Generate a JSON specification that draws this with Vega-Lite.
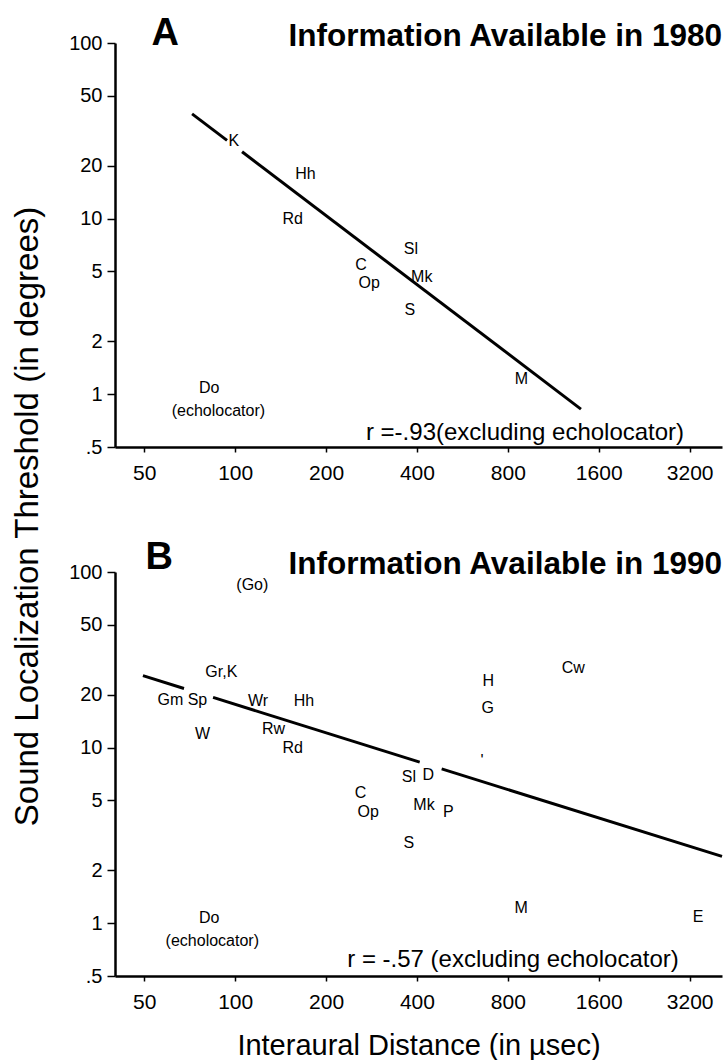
{
  "$schema": "https://vega.github.io/schema/vega-lite/v6.json",
  "background": "white",
  "padding": {"left": 10, "top": 15, "right": 0, "bottom": 0},
  "bounds": "flush",
  "spacing": 125,
  "datasets": {
    "labels": [
      {"panel": "A", "label": "K", "distance": 99, "threshold": 27.5},
      {"panel": "A", "label": "Hh", "distance": 171, "threshold": 18},
      {"panel": "A", "label": "Rd", "distance": 155, "threshold": 10},
      {"panel": "A", "label": "Sl", "distance": 382, "threshold": 6.7},
      {"panel": "A", "label": "C", "distance": 261, "threshold": 5.45},
      {"panel": "A", "label": "Op", "distance": 278, "threshold": 4.3},
      {"panel": "A", "label": "Mk", "distance": 415, "threshold": 4.65},
      {"panel": "A", "label": "S", "distance": 379, "threshold": 3.0},
      {"panel": "A", "label": "M", "distance": 888, "threshold": 1.22},
      {"panel": "A", "label": "Do", "distance": 82, "threshold": 1.08},
      {"panel": "A", "label": "(echolocator)", "distance": 88, "threshold": 0.8},
      {"panel": "B", "label": "(Go)", "distance": 114, "threshold": 84},
      {"panel": "B", "label": "Gr,K", "distance": 90, "threshold": 27},
      {"panel": "B", "label": "Gm", "distance": 61, "threshold": 18.6},
      {"panel": "B", "label": "Sp", "distance": 75, "threshold": 18.6},
      {"panel": "B", "label": "Wr", "distance": 119, "threshold": 18.3},
      {"panel": "B", "label": "Hh", "distance": 169, "threshold": 18.3},
      {"panel": "B", "label": "W", "distance": 78, "threshold": 12},
      {"panel": "B", "label": "Rw", "distance": 134, "threshold": 12.7},
      {"panel": "B", "label": "Rd", "distance": 155, "threshold": 10},
      {"panel": "B", "label": "H", "distance": 689, "threshold": 23.8},
      {"panel": "B", "label": "G", "distance": 686, "threshold": 16.7},
      {"panel": "B", "label": "Cw", "distance": 1318, "threshold": 28.4},
      {"panel": "B", "label": "'", "distance": 657, "threshold": 8.4},
      {"panel": "B", "label": "Sl", "distance": 376, "threshold": 6.8},
      {"panel": "B", "label": "D", "distance": 436, "threshold": 7.0},
      {"panel": "B", "label": "C", "distance": 260, "threshold": 5.5},
      {"panel": "B", "label": "Op", "distance": 276, "threshold": 4.3},
      {"panel": "B", "label": "Mk", "distance": 422, "threshold": 4.7},
      {"panel": "B", "label": "P", "distance": 508, "threshold": 4.3},
      {"panel": "B", "label": "S", "distance": 376, "threshold": 2.85},
      {"panel": "B", "label": "M", "distance": 886, "threshold": 1.22},
      {"panel": "B", "label": "E", "distance": 3411, "threshold": 1.09},
      {"panel": "B", "label": "Do", "distance": 82, "threshold": 1.07},
      {"panel": "B", "label": "(echolocator)", "distance": 84, "threshold": 0.787}
    ],
    "fits": [
      {"panel": "A", "segment": 1, "distance": 72, "threshold": 39.5},
      {"panel": "A", "segment": 1, "distance": 94, "threshold": 27.9},
      {"panel": "A", "segment": 2, "distance": 105.4, "threshold": 24.0},
      {"panel": "A", "segment": 2, "distance": 1397, "threshold": 0.822},
      {"panel": "B", "segment": 1, "distance": 49.5, "threshold": 25.7},
      {"panel": "B", "segment": 1, "distance": 67.7, "threshold": 21.7},
      {"panel": "B", "segment": 2, "distance": 84.5, "threshold": 19.3},
      {"panel": "B", "segment": 2, "distance": 408.5, "threshold": 8.27},
      {"panel": "B", "segment": 3, "distance": 483, "threshold": 7.56},
      {"panel": "B", "segment": 3, "distance": 4096, "threshold": 2.4}
    ],
    "notes": [
      {"panel": "A", "note": "r =-.93(excluding echolocator)", "distance": 912, "threshold": 0.55},
      {"panel": "B", "note": "r = -.57 (excluding echolocator)", "distance": 832, "threshold": 0.562}
    ]
  },
  "vconcat": [
    {
      "width": 607,
      "height": 404,
      "layer": [
        {
          "data": {"name": "fits"},
          "transform": [{"filter": "datum.panel == 'A'"}],
          "mark": {"type": "line", "color": "black", "strokeWidth": 3, "strokeCap": "butt"},
          "encoding": {
            "x": {
              "field": "distance", "type": "quantitative",
              "scale": {"type": "log", "domain": [40, 4096], "nice": false, "zero": false},
              "axis": {
                "values": [50, 100, 200, 400, 800, 1600, 3200],
                "labelExpr": "format(datum.value, 'd')",
                "title": null, "tickSize": 5, "labelPadding": 10, "labelFontSize": 21
              }
            },
            "y": {
              "field": "threshold", "type": "quantitative",
              "scale": {"type": "log", "domain": [0.5, 100], "nice": false, "zero": false},
              "axis": {
                "values": [0.5, 1, 2, 5, 10, 20, 50, 100],
                "labelExpr": "datum.value == 0.5 ? '.5' : format(datum.value, 'd')",
                "title": "Sound Localization Threshold (in degrees)",
                "titleX": -71, "titleY": 473, "titleAngle": 270,
                "titleAlign": "center", "titleBaseline": "bottom",
                "titleFontSize": 33,
                "tickSize": 8, "labelPadding": 5, "labelFontSize": 20
              }
            },
            "detail": {"field": "segment", "type": "nominal"}
          }
        },
        {
          "data": {"name": "labels"},
          "transform": [{"filter": "datum.panel == 'A'"}],
          "mark": {"type": "text", "fontSize": 16, "align": "center", "baseline": "middle"},
          "encoding": {
            "x": {"field": "distance", "type": "quantitative"},
            "y": {"field": "threshold", "type": "quantitative"},
            "text": {"field": "label", "type": "nominal"}
          }
        },
        {
          "data": {"name": "notes"},
          "transform": [{"filter": "datum.panel == 'A'"}],
          "mark": {"type": "text", "fontSize": 24, "align": "center", "baseline": "alphabetic"},
          "encoding": {
            "x": {"field": "distance", "type": "quantitative"},
            "y": {"field": "threshold", "type": "quantitative"},
            "text": {"field": "note", "type": "nominal"}
          }
        },
        {
          "data": {"values": [{}]},
          "mark": {"type": "text", "text": "A", "fontSize": 38, "fontWeight": "bold", "align": "center", "baseline": "alphabetic"},
          "encoding": {"x": {"datum": 58.7}, "y": {"datum": 97.4}}
        },
        {
          "data": {"values": [{}]},
          "mark": {"type": "text", "text": "Information Available in 1980", "fontSize": 31.5, "fontWeight": "bold", "align": "right", "baseline": "alphabetic"},
          "encoding": {"x": {"datum": 4096}, "y": {"datum": 96.3}}
        }
      ]
    },
    {
      "width": 607,
      "height": 404,
      "layer": [
        {
          "data": {"name": "fits"},
          "transform": [{"filter": "datum.panel == 'B'"}],
          "mark": {"type": "line", "color": "black", "strokeWidth": 3, "strokeCap": "butt"},
          "encoding": {
            "x": {
              "field": "distance", "type": "quantitative",
              "scale": {"type": "log", "domain": [40, 4096], "nice": false, "zero": false},
              "axis": {
                "values": [50, 100, 200, 400, 800, 1600, 3200],
                "labelExpr": "format(datum.value, 'd')",
                "title": "Interaural Distance (in µsec)",
                "titleFontSize": 29, "titlePadding": 19,
                "tickSize": 5, "labelPadding": 10, "labelFontSize": 21
              }
            },
            "y": {
              "field": "threshold", "type": "quantitative",
              "scale": {"type": "log", "domain": [0.5, 100], "nice": false, "zero": false},
              "axis": {
                "values": [0.5, 1, 2, 5, 10, 20, 50, 100],
                "labelExpr": "datum.value == 0.5 ? '.5' : format(datum.value, 'd')",
                "title": null,
                "tickSize": 8, "labelPadding": 5, "labelFontSize": 20
              }
            },
            "detail": {"field": "segment", "type": "nominal"}
          }
        },
        {
          "data": {"name": "labels"},
          "transform": [{"filter": "datum.panel == 'B'"}],
          "mark": {"type": "text", "fontSize": 16, "align": "center", "baseline": "middle"},
          "encoding": {
            "x": {"field": "distance", "type": "quantitative"},
            "y": {"field": "threshold", "type": "quantitative"},
            "text": {"field": "label", "type": "nominal"}
          }
        },
        {
          "data": {"name": "notes"},
          "transform": [{"filter": "datum.panel == 'B'"}],
          "mark": {"type": "text", "fontSize": 24, "align": "center", "baseline": "alphabetic"},
          "encoding": {
            "x": {"field": "distance", "type": "quantitative"},
            "y": {"field": "threshold", "type": "quantitative"},
            "text": {"field": "note", "type": "nominal"}
          }
        },
        {
          "data": {"values": [{}]},
          "mark": {"type": "text", "text": "B", "fontSize": 38, "fontWeight": "bold", "align": "center", "baseline": "alphabetic"},
          "encoding": {"x": {"datum": 56}, "y": {"datum": 104}}
        },
        {
          "data": {"values": [{}]},
          "mark": {"type": "text", "text": "Information Available in 1990", "fontSize": 31.5, "fontWeight": "bold", "align": "right", "baseline": "alphabetic"},
          "encoding": {"x": {"datum": 4096}, "y": {"datum": 97.4}}
        }
      ]
    }
  ],
  "config": {
    "font": "Liberation Sans",
    "view": {"stroke": null},
    "axis": {
      "grid": false,
      "domainColor": "black", "domainWidth": 2.5,
      "tickColor": "black", "tickWidth": 1.5,
      "labelColor": "black", "titleColor": "black",
      "labelFont": "Liberation Sans", "titleFont": "Liberation Sans",
      "titleFontWeight": "normal",
      "labelOverlap": false, "labelFlush": false
    },
    "text": {"font": "Liberation Sans", "color": "black"}
  }
}
